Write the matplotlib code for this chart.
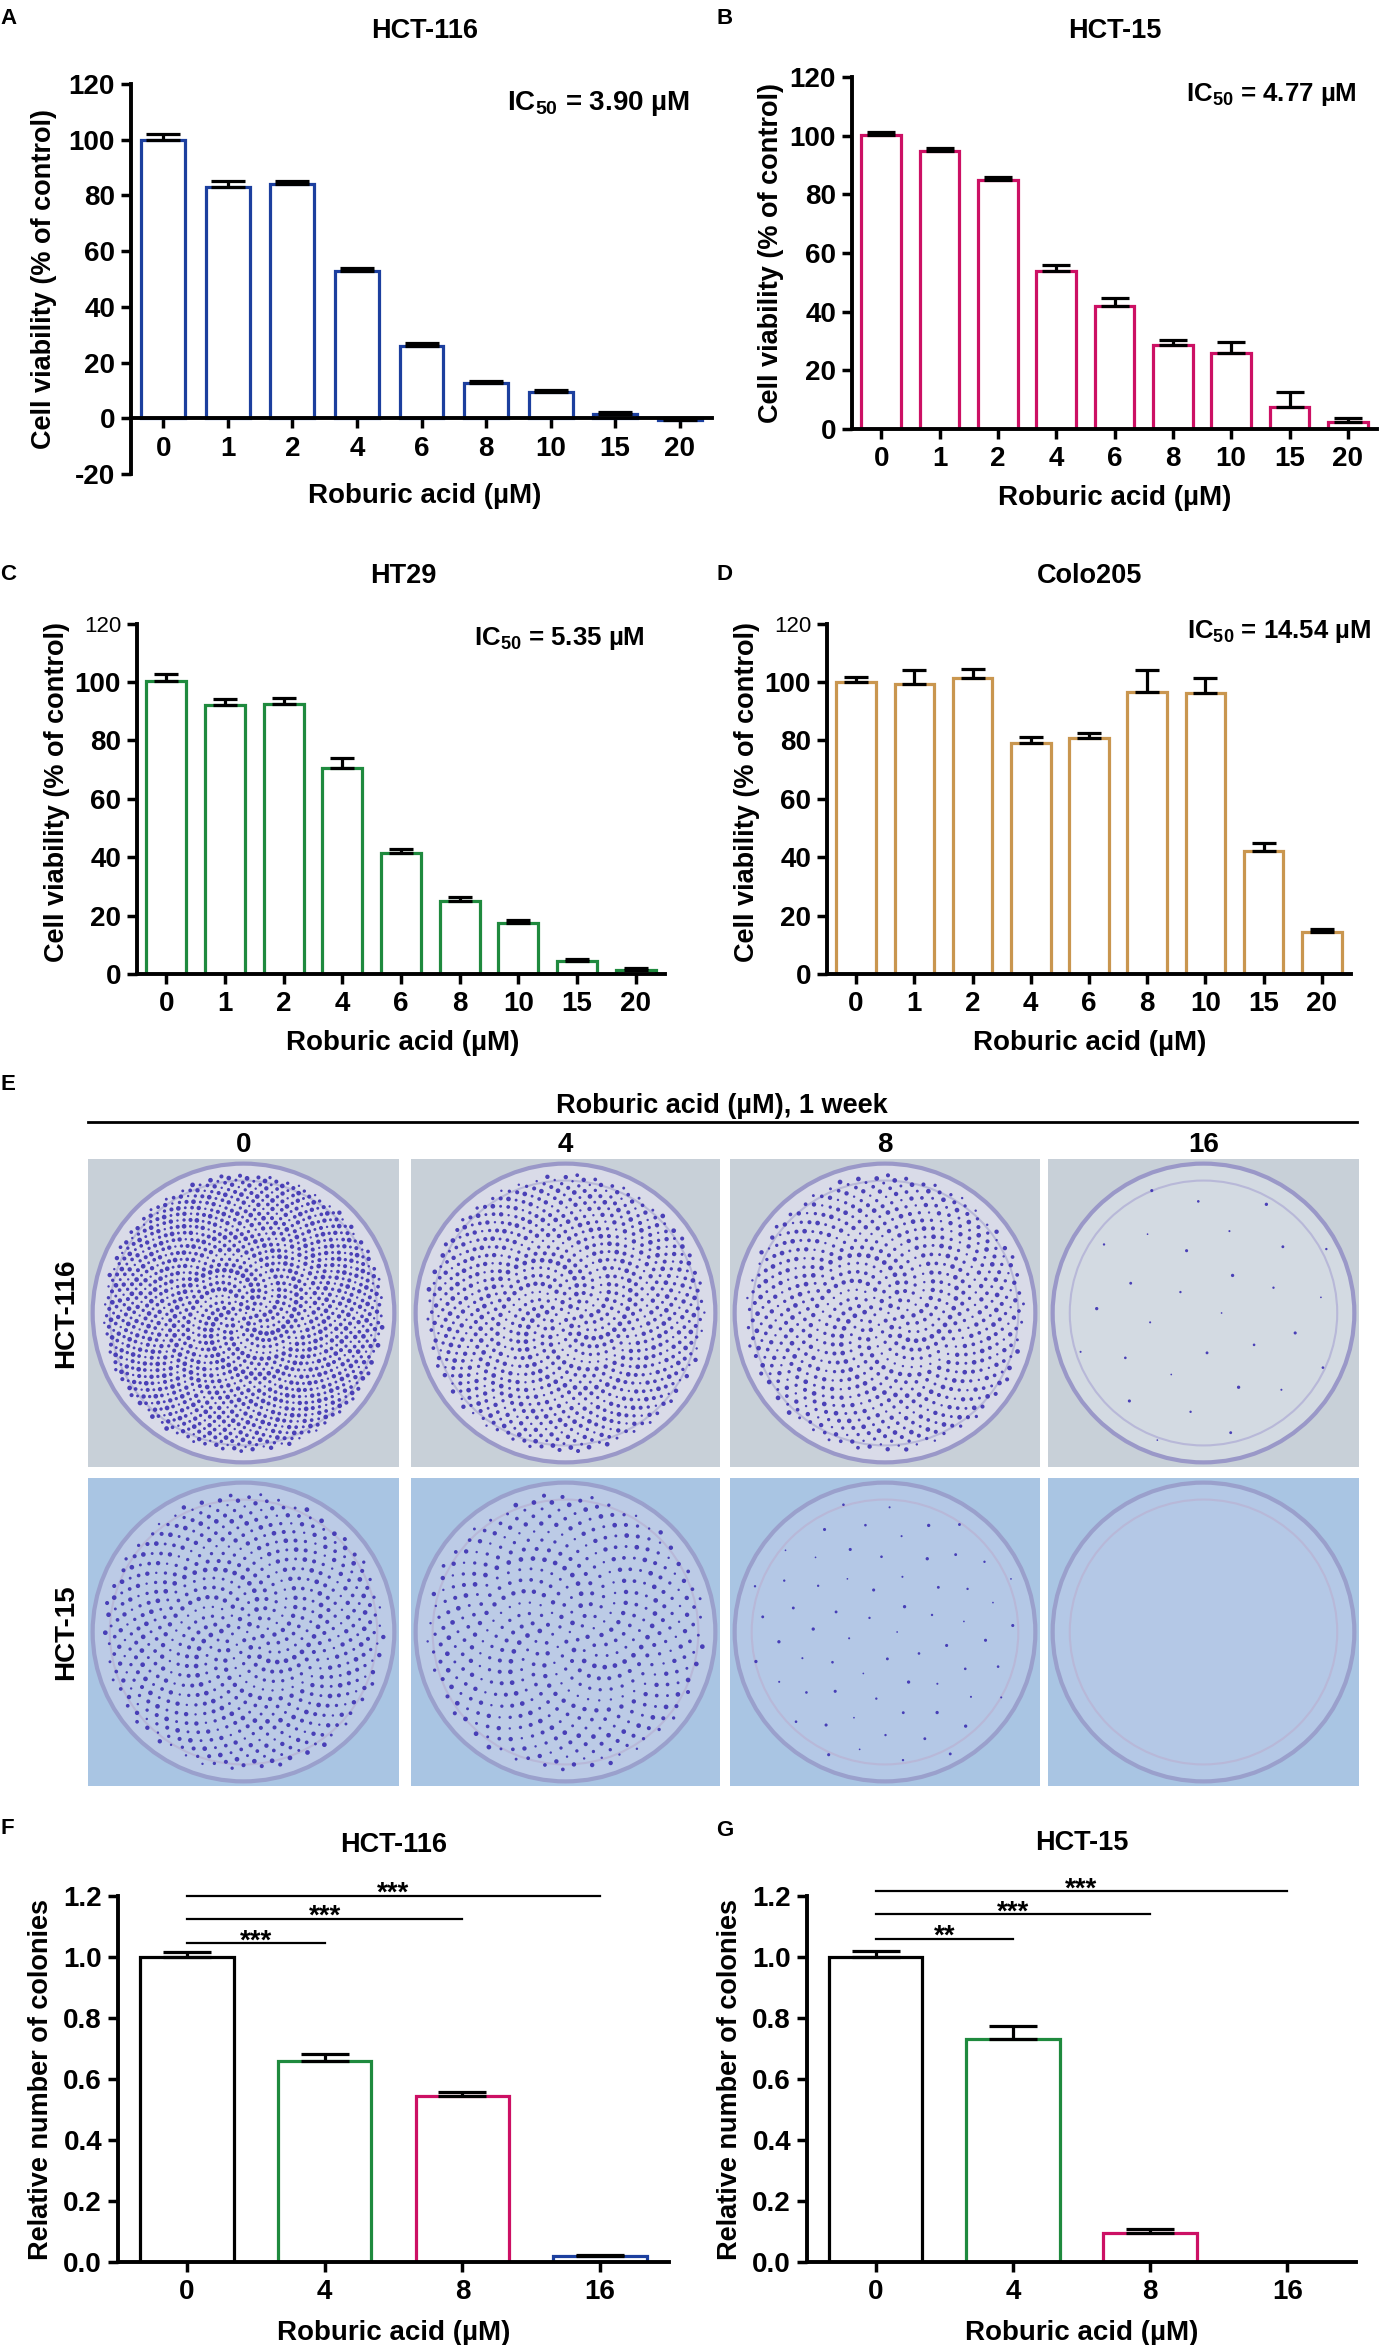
import numpy as np
import matplotlib
matplotlib.use("Agg")
import matplotlib.pyplot as plt
from matplotlib.patches import Circle, Rectangle
from matplotlib.lines import Line2D
from matplotlib.ticker import FormatStrFormatter

# ---------------- data ----------------
conc_labels = ['0', '1', '2', '4', '6', '8', '10', '15', '20']

hct116_mean = [100.0, 83.0, 84.0, 53.0, 26.0, 12.5, 9.5, 1.5, -0.5]
hct116_err = [2.0, 2.3, 1.0, 0.8, 1.0, 1.0, 0.8, 0.8, 0.5]

hct15_mean = [100.2, 94.8, 84.8, 54.0, 42.0, 28.7, 25.8, 7.5, 2.4]
hct15_err = [1.2, 1.1, 1.1, 2.0, 2.7, 1.7, 3.7, 5.1, 1.4]

ht29_mean = [100.3, 92.0, 92.5, 70.7, 41.5, 25.0, 17.5, 4.5, 1.5]
ht29_err = [2.3, 2.3, 2.0, 3.2, 1.3, 1.3, 0.9, 0.5, 0.4]

colo205_mean = [100.0, 99.2, 101.3, 79.0, 80.7, 96.5, 96.3, 42.2, 14.5]
colo205_err = [1.7, 4.9, 3.0, 2.0, 1.7, 7.6, 5.0, 2.8, 0.8]

ic50_labels = ['3.90', '4.77', '5.35', '14.54']

dose_labels = ['0', '4', '8', '16']
hct116_col_mean = [1.0, 0.66, 0.545, 0.02]
hct116_col_err = [0.017, 0.022, 0.013, 0.003]
hct15_col_mean = [1.0, 0.73, 0.095, 0.0]
hct15_col_err = [0.02, 0.045, 0.012, 0.0]

sig_F = [(0, 1, '***', 1.045), (0, 2, '***', 1.125), (0, 3, '***', 1.2)]
sig_G = [(0, 1, '**', 1.06), (0, 2, '***', 1.14), (0, 3, '***', 1.215)]

# ---------------- style ----------------
BLUE = '#1c3f9e'
MAGENTA = '#cc1064'
GREEN = '#1f8a3e'
TAN = '#c9964f'

plt.rcParams.update({
    'font.family': ['Liberation Sans', 'DejaVu Sans'],
    'font.weight': 'bold',
    'axes.unicode_minus': False,
    'mathtext.fontset': 'custom',
    'mathtext.rm': 'Liberation Sans:bold',
    'mathtext.it': 'Liberation Sans:bold',
    'mathtext.bf': 'Liberation Sans:bold',
})

W, H = 1381, 2345
fig = plt.figure(figsize=(W / 100, H / 100), dpi=100)


def add_ax(x0, x1, y_top, y_bot):
    return fig.add_axes([x0 / W, 1 - y_bot / H, (x1 - x0) / W, (y_bot - y_top) / H])


def ftext(x, yc, s, size, ha='center', **kw):
    # place text so that cap-height centre sits at yc (pixels from top)
    base = yc + 0.358 * size / 0.72
    fig.text(x / W, 1 - base / H, s, fontsize=size, ha=ha, va='baseline', **kw)


def ylab(x, yc, s, size=19.5):
    fig.text(x / W, 1 - yc / H, s, fontsize=size, rotation=90, ha='center', va='center')


def bar_panel(ax, labels, means, errs, colors, ylim, yticks, capsize):
    x = np.arange(len(labels))
    ax.bar(x, means, width=0.68, facecolor='white', edgecolor=colors, linewidth=2.3, zorder=2)
    ax.errorbar(x, means, yerr=[np.zeros(len(errs)), errs], fmt='none', ecolor='black',
                elinewidth=2.3, capsize=capsize, capthick=2.3, zorder=3)
    ax.set_xlim(-0.5, len(labels) - 0.5)
    ax.set_ylim(*ylim)
    ax.set_yticks(yticks)
    ax.set_xticks(x)
    ax.set_xticklabels(labels)
    for s in ['top', 'right']:
        ax.spines[s].set_visible(False)
    ax.spines['left'].set_linewidth(2.8)
    ax.spines['bottom'].set_linewidth(2.8)
    ax.spines['bottom'].set_position(('data', 0))
    ax.spines['bottom'].set_zorder(4)
    ax.tick_params(axis='both', length=7, width=2.5, labelsize=20, direction='out')
    ax.tick_params(axis='x', pad=5.5)
    ax.tick_params(axis='y', pad=4.5)
    ax.patch.set_alpha(0)
    return x


# ---------------- A ----------------
axA = add_ax(131, 712, 84, 474)
bar_panel(axA, conc_labels, hct116_mean, hct116_err, BLUE, (-20, 120), range(-20, 121, 20), 12.5)
ftext(425, 28, 'HCT-116', 19.5)
ftext(690, 100, r'IC$_{50}$ = ' + ic50_labels[0] + ' µM', 20, ha='right')
ftext(425, 493, 'Roburic acid (µM)', 20)
ylab(44, 279, 'Cell viability (% of control)')
ftext(0, 16, 'A', 16, ha='left')

# ---------------- B ----------------
axB = add_ax(852, 1377, 77, 429)
bar_panel(axB, conc_labels, hct15_mean, hct15_err, MAGENTA, (0, 120), range(0, 121, 20), 10)
ftext(1115, 28, 'HCT-15', 19.5)
ftext(1357, 92, r'IC$_{50}$ = ' + ic50_labels[1] + ' µM', 18.6, ha='right')
ftext(1115, 495, 'Roburic acid (µM)', 20)
ylab(771, 253, 'Cell viability (% of control)')
ftext(716, 16, 'B', 16, ha='left')

# ---------------- C ----------------
axC = add_ax(137, 665, 623.6, 974)
bar_panel(axC, conc_labels, ht29_mean, ht29_err, GREEN, (0, 120), range(0, 121, 20), 8.5)
ftext(403, 573, 'HT29', 19.5)
ftext(645, 636, r'IC$_{50}$ = ' + ic50_labels[2] + ' µM', 18.6, ha='right')
ftext(403, 1040, 'Roburic acid (µM)', 20)
ylab(57, 792, 'Cell viability (% of control)')
ftext(0, 572, 'C', 16, ha='left')

# ---------------- D ----------------
axD = add_ax(827, 1351, 623.6, 974)
bar_panel(axD, conc_labels, colo205_mean, colo205_err, TAN, (0, 120), range(0, 121, 20), 8.5)
ftext(1090, 573, 'Colo205', 19.5)
ftext(1371, 629, r'IC$_{50}$ = ' + ic50_labels[3] + ' µM', 18.5, ha='right')
ftext(1090, 1040, 'Roburic acid (µM)', 20)
ylab(747, 792, 'Cell viability (% of control)')
ftext(716, 572, 'D', 16, ha='left')

for ax in (axC, axD):
    fig.canvas.draw()
    lbls = ax.get_yticklabels()
    lbls[-1].set_fontsize(16)
    lbls[-1].set_fontweight('normal')

# ---------------- E (colony plates) ----------------
ftext(0, 1082, 'E', 16, ha='left')
ftext(722, 1103, 'Roburic acid (µM), 1 week', 19.5)
fig.add_artist(Line2D([88 / W, 1357 / W], [1 - 1122 / H, 1 - 1122 / H], color='black', lw=2.0,
                      transform=fig.transFigure))

photo_cols_x = [(88, 399), (411, 720), (730, 1040), (1048, 1359)]
photo_rows_y = [(1159, 1467), (1478, 1786)]
row_names = ['HCT-116', 'HCT-15']
row_rel = [hct116_col_mean, hct15_col_mean]
row_base = [1500, 700]
row_bg = ['#c8d0d8', '#a9c5e3']
row_plate = ['#d9dbe8', '#bccbe6']
row_rim = ['#9a98c8', '#9aa0cc']

golden = np.pi * (3 - np.sqrt(5))
for r, (y0, y1) in enumerate(photo_rows_y):
    ylab(66, (y0 + y1) / 2, row_names[r], 20)
    for c, (x0, x1) in enumerate(photo_cols_x):
        if r == 0:
            ftext((x0 + x1) / 2, 1142, dose_labels[c], 20)
        ax = add_ax(x0, x1, y0, y1)
        ax.set_xlim(0, 1)
        ax.set_ylim(0, 1)
        ax.axis('off')
        ax.add_patch(Rectangle((0, 0), 1, 1, facecolor=row_bg[r], edgecolor='none'))
        plate_fc = row_plate[r] if row_rel[r][c] > 0.3 else ('#d3dae2' if r == 0 else '#b4c8e6')
        ax.add_patch(Circle((0.5, 0.5), 0.485, facecolor=plate_fc, edgecolor=row_rim[r], lw=3))
        ax.add_patch(Circle((0.5, 0.5), 0.43, facecolor='none', edgecolor='#b8b8d8', lw=1.5))
        n = int(round(row_base[r] * row_rel[r][c]))
        if n > 0:
            i = np.arange(n)
            rad = 0.45 * np.sqrt((i + 0.5) / n)
            th = i * golden
            xs = 0.5 + rad * np.cos(th)
            ys = 0.5 + rad * np.sin(th)
            sizes = 3 + (i * 37 % 7) * 1.4
            if row_rel[r][c] < 0.3:
                sizes = sizes * 0.5
            ax.scatter(xs, ys, s=sizes, c='#3b2fb2', linewidths=0, alpha=0.9)

# ---------------- F ----------------
col_colors = ['black', GREEN, MAGENTA, BLUE]


def colony_panel(ax, means, errs, sigs):
    x = bar_panel(ax, dose_labels, means, errs, col_colors, (0, 1.2), np.arange(0, 1.21, 0.2), 17.5)
    ax.yaxis.set_major_formatter(FormatStrFormatter('%.1f'))
    for a, b, star, yv in sigs:
        ax.plot([x[a], x[b]], [yv, yv], color='black', lw=1.6, clip_on=False, zorder=5)
        ax.annotate(star, xy=((x[a] + x[b]) / 2, yv), xytext=(0, -3.6), textcoords='offset points',
                    ha='center', va='baseline', fontsize=20, annotation_clip=False)


axF = add_ax(118, 669, 1896, 2262)
colony_panel(axF, hct116_col_mean, hct116_col_err, sig_F)
ftext(394, 1842, 'HCT-116', 19.5)
ftext(394, 2330, 'Roburic acid (µM)', 20)
ylab(41, 2079, 'Relative number of colonies')
ftext(0, 1826, 'F', 16, ha='left')

axG = add_ax(807, 1356, 1896, 2262)
colony_panel(axG, hct15_col_mean, hct15_col_err, sig_G)
ftext(1082, 1840, 'HCT-15', 19.5)
ftext(1082, 2330, 'Roburic acid (µM)', 20)
ylab(730, 2079, 'Relative number of colonies')
ftext(716, 1828, 'G', 16, ha='left')

fig.savefig('out.png', dpi=100, facecolor='white')
